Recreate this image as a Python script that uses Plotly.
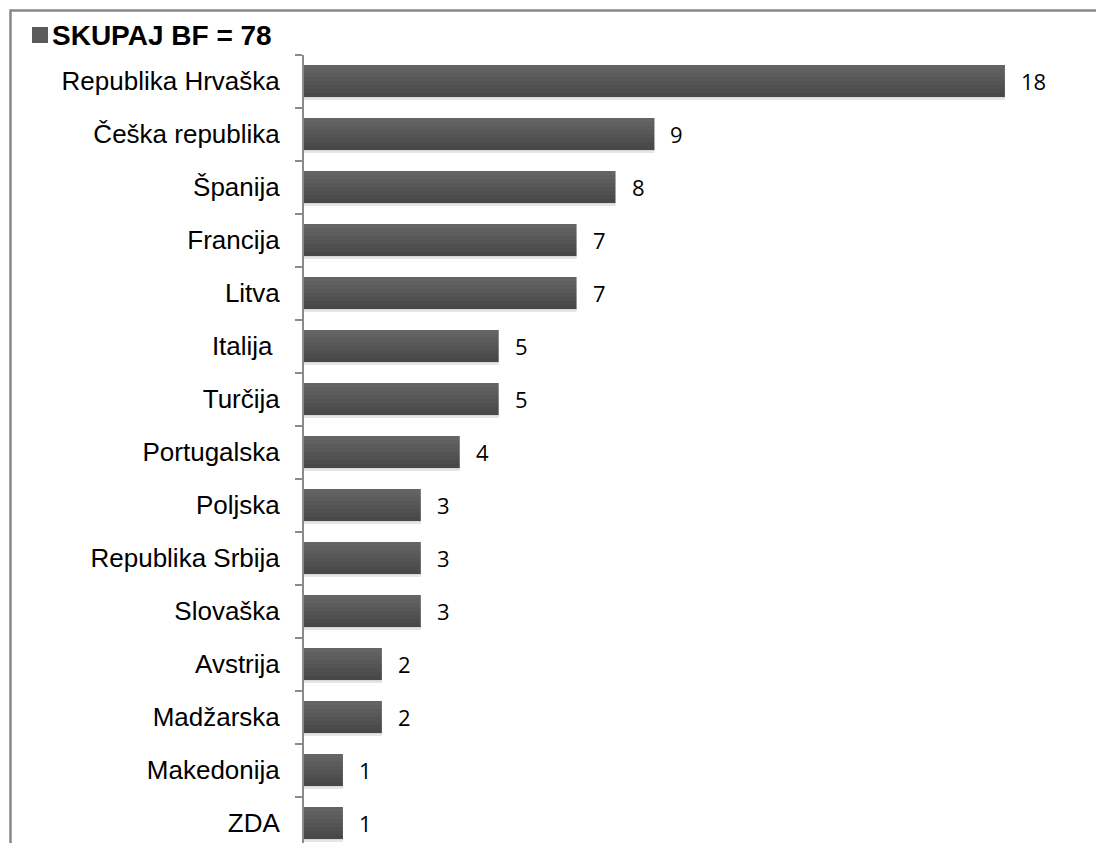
import plotly.graph_objects as go

# ---- data ----
countries = ["Republika Hrvaška", "Češka republika", "Španija", "Francija", "Litva",
             "Italija\u00a0", "Turčija", "Portugalska", "Poljska", "Republika Srbija",
             "Slovaška", "Avstrija", "Madžarska", "Makedonija", "ZDA"]
counts = [18, 9, 8, 7, 7, 5, 5, 4, 3, 3, 3, 2, 2, 1, 1]
legend_label = "SKUPAJ BF = 78"

W, H = 1096, 843
fig = go.Figure()

# soft shadow under bars
for off, wd, col in [(0.30, 0.03, "#c9c9c9"), (0.33, 0.03, "#e6e6e6")]:
    fig.add_trace(go.Bar(y=countries, x=counts, orientation="h", offset=off, width=wd,
                         marker=dict(color=col, line=dict(width=0)),
                         showlegend=False, hoverinfo="skip"))

# gradient bars built from horizontal strips
grad = ["#646464", "#606060", "#5c5c5c", "#585858", "#545454", "#505050", "#4c4c4c", "#484848"]
n = len(grad)
bw = 0.6 / n
for k, col in enumerate(grad):
    fig.add_trace(go.Bar(y=countries, x=counts, orientation="h",
                         offset=-0.3 + k * bw, width=bw * 1.02,
                         marker=dict(color=col, line=dict(width=0)),
                         showlegend=False, hoverinfo="skip"))

# data labels
for c, v in zip(countries, counts):
    fig.add_annotation(x=v, y=c, xref="x", yref="y", text=str(v), showarrow=False,
                       xanchor="left", yanchor="middle", xshift=14,
                       font=dict(family="Open Sans", size=22, color="#000000"))

# legend (manual)
fig.add_shape(type="rect", xref="paper", yref="paper",
              x0=32 / W, x1=48 / W, y0=1 - 43 / H, y1=1 - 27 / H,
              fillcolor="#5a5a5a", line=dict(width=0))
fig.add_annotation(x=50 / W, y=1 - 35.5 / H, xref="paper", yref="paper",
                   text="<b>" + legend_label + "</b>", showarrow=False,
                   xanchor="left", yanchor="middle",
                   font=dict(family="Liberation Sans, Arial", size=28, color="#000000"))

# chart border (extends beyond the visible area)
fig.add_shape(type="rect", xref="paper", yref="paper",
              x0=10.5 / W, x1=1.05, y0=-0.05, y1=1 - 10.5 / H,
              line=dict(color="#888888", width=2.5), fillcolor="rgba(0,0,0,0)")

fig.update_layout(
    width=W, height=H,
    margin=dict(l=0, r=0, t=0, b=0),
    paper_bgcolor="white", plot_bgcolor="white",
    barmode="overlay",
    showlegend=False,
    xaxis=dict(domain=[304 / W, 1], range=[0, (W - 304) / 38.94],
               visible=False, showgrid=False, zeroline=False, fixedrange=True),
    yaxis=dict(domain=[0, 1 - 54.5 / H], type="category",
               categoryorder="array", categoryarray=countries,
               range=[(H - 54.5) / 53 - 0.5, -0.5],
               showline=True, linecolor="#8a8a8a", linewidth=2,
               ticks="outside", ticklen=7, tickwidth=2, tickcolor="#8a8a8a",
               tickson="boundaries", showgrid=False, zeroline=False,
               ticklabelstandoff=17,
               tickfont=dict(family="Liberation Sans, Arial", size=26, color="#000000")),
)

fig.write_html("out.html", config={"displayModeBar": False},
               post_script="document.body.style.margin='0';document.body.style.overflow='hidden';")
